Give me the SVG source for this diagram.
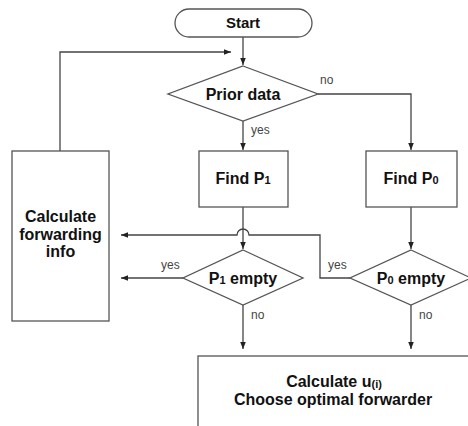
<svg xmlns="http://www.w3.org/2000/svg" width="468" height="426" viewBox="0 0 468 426">
<defs>
<marker id="ah" viewBox="0 0 10 10" refX="10" refY="5" markerWidth="7" markerHeight="7" markerUnits="userSpaceOnUse" orient="auto">
<path d="M0,1 L10,5 L0,9 Z" fill="#222"/>
</marker>
<style>
.shape{fill:#fff;stroke:#555;stroke-width:1.3}
.t{font-family:"Liberation Sans",Arial,sans-serif;font-weight:bold;font-size:16px;fill:#111;text-anchor:middle}
.lbl{font-family:"Liberation Sans",Arial,sans-serif;font-size:12px;fill:#444}
.c{fill:none;stroke:#444;stroke-width:1.3}
.ca{fill:none;stroke:#444;stroke-width:1.3;marker-end:url(#ah)}
</style>
</defs>
<rect width="468" height="426" fill="#fff"/>
<g id="connectors">
<path class="ca" d="M243,37 V65"/>
<path class="ca" d="M60,151 V52 H231"/>
<path class="ca" d="M243,121 V150"/>
<path class="ca" d="M318,94 H411 V150"/>
<path class="ca" d="M243,207 V249"/>
<path class="ca" d="M411,207 V249"/>
<path class="ca" d="M350,278 H320 V235 H249 A6,6 0 0 0 237,235 H121"/>
<path class="ca" d="M183,278 H121"/>
<path class="ca" d="M243,305 V349"/>
<path class="ca" d="M411,305 V349"/>
<text class="lbl" x="320" y="84">no</text>
<text class="lbl" x="251" y="134">yes</text>
<text class="lbl" x="161" y="269">yes</text>
<text class="lbl" x="328" y="269">yes</text>
<text class="lbl" x="251" y="319">no</text>
<text class="lbl" x="419" y="319">no</text>
</g>
<g id="start">
<rect class="shape" x="175" y="9" width="137" height="28" rx="14"/>
<text class="t" x="243" y="28" style="font-size:15px">Start</text>
</g>
<g id="prior">
<polygon class="shape" points="243,66 318,94 243,121 168,94"/>
<text class="t" x="243" y="100">Prior data</text>
</g>
<g id="findp1">
<rect class="shape" x="199" y="151" width="89" height="56"/>
<text class="t" x="243" y="184">Find P<tspan style="font-size:11px">1</tspan></text>
</g>
<g id="findp0">
<rect class="shape" x="366" y="151" width="91" height="56"/>
<text class="t" x="411" y="184">Find P<tspan style="font-size:11px">0</tspan></text>
</g>
<g id="calcfwd">
<rect class="shape" x="12" y="151" width="97" height="170"/>
<text class="t" x="60.5" y="222">Calculate</text>
<text class="t" x="60.5" y="240">forwarding</text>
<text class="t" x="60.5" y="257">info</text>
</g>
<g id="p1empty">
<polygon class="shape" points="243,250 303,278 243,305 183,278"/>
<text class="t" x="243" y="284">P<tspan style="font-size:11px">1</tspan> empty</text>
</g>
<g id="p0empty">
<polygon class="shape" points="411,250 471,278 411,305 350,278"/>
<text class="t" x="411" y="284">P<tspan style="font-size:11px">0</tspan> empty</text>
</g>
<g id="calcu">
<rect class="shape" x="198" y="356" width="300" height="100"/>
<text class="t" x="334" y="387">Calculate u<tspan style="font-size:11px" dy="1">(i)</tspan></text>
<text class="t" x="333" y="405">Choose optimal forwarder</text>
</g>
</svg>
